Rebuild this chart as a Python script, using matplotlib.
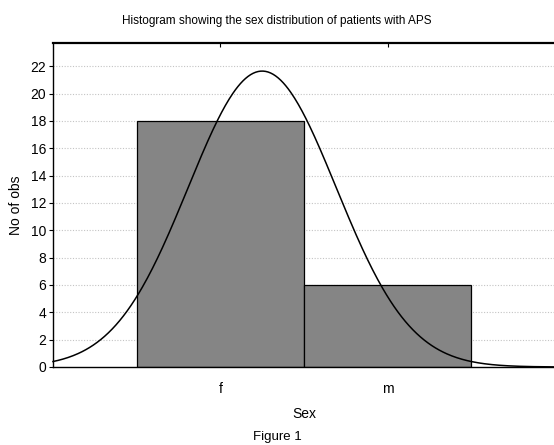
import numpy as np
import matplotlib
matplotlib.use('Agg')
import matplotlib.pyplot as plt

categories = ['f', 'm']
codes = [1, 2]
counts = [18, 6]

FONT = ['Liberation Sans Narrow', 'Liberation Sans', 'DejaVu Sans']
plt.rcParams['font.family'] = FONT

# normal curve fitted to the coded values (as drawn by the stats package)
vals = np.repeat(codes, counts)
mu = vals.mean()
sd = vals.std(ddof=1)
xs = np.linspace(0, 3, 400)
ys = len(vals) * 1.0 / (sd * np.sqrt(2 * np.pi)) * np.exp(-0.5 * ((xs - mu) / sd) ** 2)

fig = plt.figure(figsize=(5.54, 4.45), dpi=100)
ax = fig.add_axes([53 / 554, 1 - 367 / 445, 502 / 554, 324 / 445])

ax.bar(codes, counts, width=1.0, color='#858585', edgecolor='black', linewidth=0.9, zorder=2)
ax.plot(xs, ys, color='black', linewidth=1.1, zorder=3, clip_on=False)

ax.set_xlim(0, 3)
ax.set_ylim(0, 23.7)
ax.set_yticks(range(0, 23, 2))
ax.set_xticks(codes)
ax.set_xticklabels(categories)
ax.tick_params(axis='y', direction='out', length=3, labelsize=10, pad=2)
ax.tick_params(axis='x', direction='in', length=3, labelsize=10, pad=11, top=True)
for y in range(2, 23, 2):
    ax.axhline(y, color='#c4c4c4', linestyle=(0, (1, 1.5)), linewidth=0.8, zorder=1)

ax.spines['right'].set_visible(False)
for s in ['left', 'bottom']:
    ax.spines[s].set_linewidth(1.0)
ax.spines['top'].set_linewidth(1.6)

ax.set_ylabel('No of obs', fontsize=10, labelpad=5)
ax.set_xlabel('Sex', fontsize=10, labelpad=8)
fig.text(0.5, 1 - 21 / 445, 'Histogram showing the sex distribution of patients with APS',
         ha='center', va='center', fontsize=8.5)
fig.text(0.5, 1 - 437 / 445, 'Figure 1', ha='center', va='center', fontsize=9.5)

fig.savefig('out.png', dpi=100)
